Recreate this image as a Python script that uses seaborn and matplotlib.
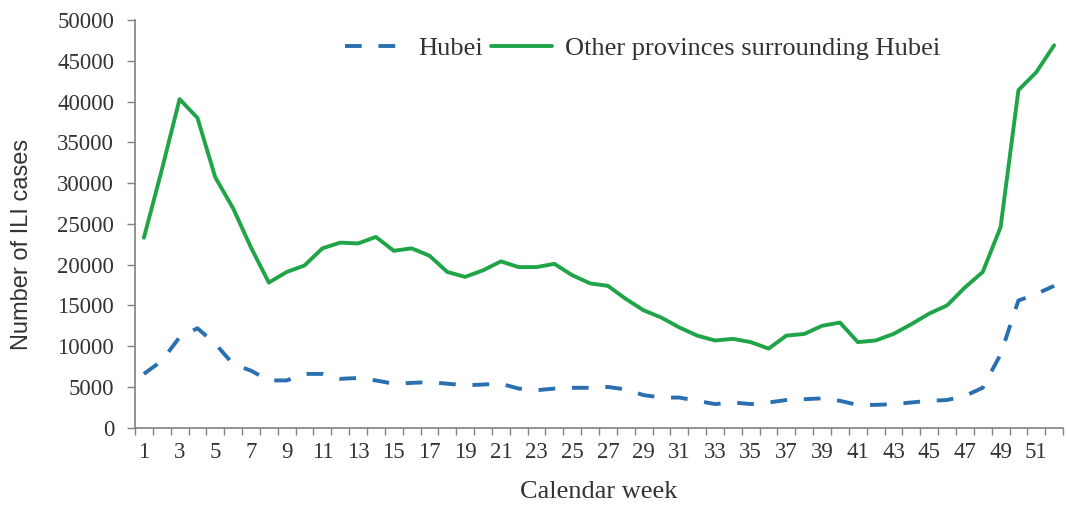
import numpy as np
import pandas as pd
import matplotlib
matplotlib.use("Agg")
import matplotlib.pyplot as plt
import seaborn as sns

# Weekly ILI case counts
weeks = list(range(1, 53))
hubei = [6600, 8200, 11100, 12200, 10300, 7800, 7000, 5800, 5800, 6600,
         6600, 6000, 6100, 5800, 5400, 5500, 5600, 5400, 5200, 5300,
         5400, 4800, 4600, 4800, 4900, 4900, 5000, 4700, 4000, 3700,
         3700, 3300, 2900, 3100, 2900, 3100, 3400, 3500, 3600, 3300,
         2800, 2800, 2900, 3100, 3300, 3400, 3900, 4900, 9000, 15600,
         16400, 17400]
others = [23300, 31600, 40300, 38000, 30700, 26900, 22100, 17800, 19100, 19900,
          22000, 22700, 22600, 23400, 21700, 22000, 21100, 19100, 18500, 19300,
          20400, 19700, 19700, 20100, 18700, 17700, 17400, 15800, 14400, 13500,
          12300, 11300, 10700, 10900, 10500, 9700, 11300, 11500, 12500, 12900,
          10500, 10700, 11500, 12700, 14000, 15000, 17200, 19100, 24600, 41400,
          43600, 46900]
series_names = ["Hubei", "Other provinces surrounding Hubei"]

df = pd.DataFrame({"week": weeks, series_names[0]: hubei, series_names[1]: others})

sns.set_style("white")
plt.rcParams['font.family'] = ['Liberation Serif', 'DejaVu Serif']

fig = plt.figure(figsize=(10.67, 5.08), dpi=100)
ax = fig.add_axes([0.1265, 0.158, 0.8698, 0.8026])

sns.lineplot(data=df, x="week", y=series_names[0], ax=ax, color="#2A6FB0",
             linewidth=2.8, label=series_names[0])
ax.lines[-1].set_linestyle((0, (4.3, 4.3)))
sns.lineplot(data=df, x="week", y=series_names[1], ax=ax, color="#20A448",
             linewidth=2.8, label=series_names[1])
for ln in ax.lines:
    ln.set_solid_joinstyle("round")
    ln.set_dash_joinstyle("round")

ax.set_xlim(0.5, 52.5)
ax.set_ylim(0, 50000)
ax.set_yticks(np.arange(0, 50001, 5000))
ax.set_yticklabels([str(v) for v in range(0, 50001, 5000)], fontsize=16.5, color="#333333")
ax.set_xticks(weeks[::2])
ax.set_xticklabels([str(w) for w in weeks[::2]], fontsize=16.5, color="#333333")
ax.set_xticks(np.arange(0.5, 53, 1), minor=True)
ax.tick_params(axis="x", which="major", bottom=True, length=0, pad=10)
ax.tick_params(axis="x", which="minor", bottom=True, length=5, width=1, color="#808080", direction="out")
ax.tick_params(axis="y", left=True, length=6, width=1, color="#808080", direction="out", pad=9)

for s in ["top", "right"]:
    ax.spines[s].set_visible(False)
for s in ["left", "bottom"]:
    ax.spines[s].set_color("#808080")
    ax.spines[s].set_linewidth(1.2)

ax.set_xlabel("Calendar week", fontsize=19, color="#333333")
ax.xaxis.set_label_coords(0.5, -0.13)
ax.set_ylabel("Number of ILI cases", fontsize=17, color="#333333",
              family=["Liberation Sans", "DejaVu Sans"])
ax.yaxis.set_label_coords(-0.11, 0.45)

leg = ax.legend(loc="center", bbox_to_anchor=(0.547, 0.93), ncol=2, frameon=False,
                fontsize=19, handlelength=2.3, columnspacing=0.3, handletextpad=0.5)
for t in leg.get_texts():
    t.set_color("#333333")

fig.savefig("out.png", dpi=100)
